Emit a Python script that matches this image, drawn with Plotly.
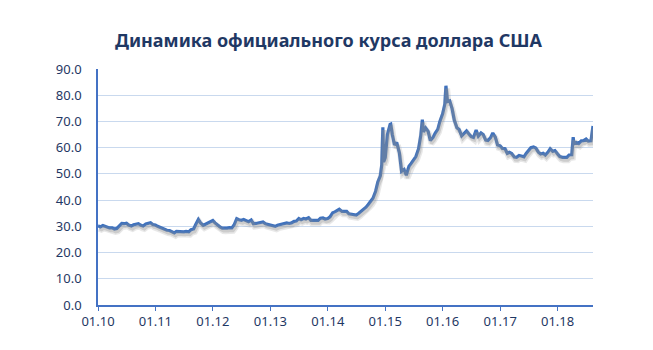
import plotly.graph_objects as go

dates = [
 "2010-01-01","2010-01-15","2010-02-01","2010-02-15","2010-03-01","2010-03-15","2010-04-01","2010-04-15","2010-05-01","2010-05-15","2010-06-01","2010-06-15",
 "2010-07-01","2010-07-15","2010-08-01","2010-08-15","2010-09-01","2010-09-15","2010-10-01","2010-10-15","2010-11-01","2010-11-15","2010-12-01","2010-12-15",
 "2011-01-01","2011-01-15","2011-02-01","2011-02-15","2011-03-01","2011-03-15","2011-04-01","2011-04-15","2011-05-01","2011-05-15","2011-06-01","2011-06-15",
 "2011-07-01","2011-07-15","2011-08-01","2011-08-15","2011-09-01","2011-09-15","2011-10-01","2011-10-15","2011-11-01","2011-11-15","2011-12-01","2011-12-15",
 "2012-01-01","2012-01-15","2012-02-01","2012-02-15","2012-03-01","2012-03-15","2012-04-01","2012-04-15","2012-05-01","2012-05-15","2012-06-01","2012-06-15",
 "2012-07-01","2012-07-15","2012-08-01","2012-08-15","2012-09-01","2012-09-15","2012-10-01","2012-10-15","2012-11-01","2012-11-15","2012-12-01","2012-12-15",
 "2013-01-01","2013-01-15","2013-02-01","2013-02-15","2013-03-01","2013-03-15","2013-04-01","2013-04-15","2013-05-01","2013-05-15","2013-06-01","2013-06-15",
 "2013-07-01","2013-07-15","2013-08-01","2013-08-15","2013-09-01","2013-09-15","2013-10-01","2013-10-15","2013-11-01","2013-11-15","2013-12-01","2013-12-15",
 "2014-01-01","2014-01-15","2014-02-01","2014-02-15","2014-03-01","2014-03-15","2014-04-01","2014-04-15","2014-05-01","2014-05-15","2014-06-01","2014-06-15",
 "2014-07-01","2014-07-15","2014-08-01","2014-08-15","2014-09-01","2014-09-15","2014-10-01","2014-10-15","2014-11-01","2014-11-15","2014-12-01","2014-12-10",
 "2014-12-17","2014-12-22",
 "2015-01-01","2015-01-15","2015-02-01","2015-02-05","2015-02-15","2015-03-01","2015-03-15","2015-04-01","2015-04-15","2015-05-01","2015-05-15","2015-06-01",
 "2015-06-15","2015-07-01","2015-07-15","2015-08-01","2015-08-15","2015-08-25","2015-09-01","2015-09-15","2015-10-01","2015-10-15","2015-11-01","2015-11-15",
 "2015-12-01","2015-12-15",
 "2016-01-01","2016-01-15","2016-01-22","2016-02-01","2016-02-15","2016-03-01","2016-03-15","2016-04-01","2016-04-15","2016-05-01","2016-05-15","2016-06-01",
 "2016-06-15","2016-07-01","2016-07-15","2016-08-01","2016-08-15","2016-09-01","2016-09-15","2016-10-01","2016-10-15","2016-11-01","2016-11-15","2016-12-01",
 "2016-12-15",
 "2017-01-01","2017-01-15","2017-02-01","2017-02-15","2017-03-01","2017-03-15","2017-04-01","2017-04-15","2017-05-01","2017-05-15","2017-06-01","2017-06-15",
 "2017-07-01","2017-07-15","2017-08-01","2017-08-15","2017-09-01","2017-09-15","2017-10-01","2017-10-15","2017-11-01","2017-11-15","2017-12-01","2017-12-15",
 "2018-01-01","2018-01-15","2018-02-01","2018-02-15","2018-03-01","2018-03-15","2018-04-01","2018-04-10","2018-04-15","2018-05-01","2018-05-15","2018-06-01",
 "2018-06-15","2018-07-01","2018-07-15","2018-08-01","2018-08-08","2018-08-14",
]

usd_rub = [
 30.2,29.8,30.3,30.0,29.8,29.4,29.4,29.0,29.2,30.2,31.1,31.0,
 31.2,30.5,30.1,30.6,30.8,31.0,30.4,30.1,30.9,31.0,31.4,30.7,
 30.5,30.0,29.6,29.2,28.7,28.5,28.4,28.1,27.5,28.1,28.0,28.1,
 27.9,28.1,27.9,28.7,29.0,30.8,32.6,31.3,30.4,30.8,31.3,31.9,
 32.2,31.3,30.4,29.8,29.3,29.2,29.3,29.5,29.4,30.5,32.9,32.5,
 32.3,32.6,32.2,31.8,32.4,31.0,31.1,31.3,31.5,31.7,31.0,30.8,
 30.4,30.1,30.0,30.4,30.6,30.8,31.1,31.3,31.1,31.3,31.9,32.0,
 33.0,32.5,33.0,32.8,33.3,32.3,32.3,32.4,32.3,33.1,33.2,32.8,
 33.0,33.6,35.2,35.5,36.1,36.5,35.7,35.8,35.7,34.8,34.7,34.6,
 34.3,34.9,35.7,36.2,37.3,38.3,39.4,40.7,43.4,46.9,49.3,53.5,
 67.8,54.5,
 56.2,65.0,68.9,69.0,65.0,61.0,62.0,58.0,51.0,51.7,49.5,52.9,
 54.0,55.5,56.6,59.6,64.6,70.7,66.0,67.5,66.2,62.7,63.9,65.6,
 67.0,70.1,
 72.9,76.6,83.6,77.6,77.9,74.9,70.5,67.6,66.9,64.5,65.4,66.4,
 65.3,64.2,63.9,66.7,64.4,65.6,65.0,62.9,62.7,63.8,65.6,64.0,
 61.0,
 60.7,59.7,59.6,57.8,58.2,57.8,56.4,56.3,57.0,56.8,56.5,57.8,
 59.1,60.0,60.3,59.9,58.3,57.6,57.9,57.2,58.3,59.6,58.6,58.9,
 57.6,56.6,56.3,56.3,56.3,57.2,57.3,64.0,61.5,62.0,61.6,62.6,
 62.7,63.3,62.5,62.6,66.0,68.3,
]

tick_dates = ["2010-01-01","2011-01-01","2012-01-01","2013-01-01","2014-01-01",
              "2015-01-01","2016-01-01","2017-01-01","2018-01-01"]
tick_labels = ["01.10","01.11","01.12","01.13","01.14","01.15","01.16","01.17","01.18"]
y_ticks = [0, 10, 20, 30, 40, 50, 60, 70, 80, 90]

title = "Динамика официального курса доллара США"

navy = "#1F3864"
axis_blue = "#4472C4"
line_blue = "#3E71BD"

x_range = ["2010-01-01", "2018-08-14"]

fig = go.Figure()
# soft shadow (drawn on offset overlay axes)
fig.add_trace(go.Scatter(x=dates, y=usd_rub, mode="lines",
                         line=dict(color="rgba(150,150,150,0.22)", width=6),
                         xaxis="x2", yaxis="y2", hoverinfo="skip", showlegend=False))
fig.add_trace(go.Scatter(x=dates, y=usd_rub, mode="lines",
                         line=dict(color="rgba(140,140,140,0.30)", width=3),
                         xaxis="x2", yaxis="y2", hoverinfo="skip", showlegend=False))
fig.add_trace(go.Scatter(x=dates, y=usd_rub, mode="lines",
                         line=dict(color=line_blue, width=3.2), showlegend=False))

fig.update_layout(
    width=653, height=350,
    margin=dict(l=98, r=60, t=69, b=45),
    paper_bgcolor="white", plot_bgcolor="white",
    title=dict(text="<b>" + title + "</b>", x=0.503, xanchor="center", y=0.885, yanchor="middle",
               font=dict(family="Noto Sans", size=18, color=navy)),
    xaxis=dict(type="date", range=x_range, tickvals=tick_dates, ticktext=tick_labels,
               showgrid=False, showline=True, linecolor=axis_blue, linewidth=1.5,
               ticks="outside", ticklen=4, tickcolor=axis_blue, tickwidth=1,
               tickfont=dict(family="Noto Sans", size=13, color=navy), zeroline=False),
    yaxis=dict(range=[0, 90], tickvals=y_ticks, tickformat=".1f",
               showgrid=True, gridcolor="#C9D9EE", gridwidth=1,
               showline=True, linecolor=axis_blue, linewidth=1.5, ticks="",
               ticklabelstandoff=12,
               tickfont=dict(family="Noto Sans", size=13, color=navy), zeroline=False),
    xaxis2=dict(type="date", overlaying="x", range=["2009-12-24", "2018-08-07"], visible=False),
    yaxis2=dict(overlaying="y", range=[1.1, 91.1], visible=False),
)

fig.write_html("out.html")
